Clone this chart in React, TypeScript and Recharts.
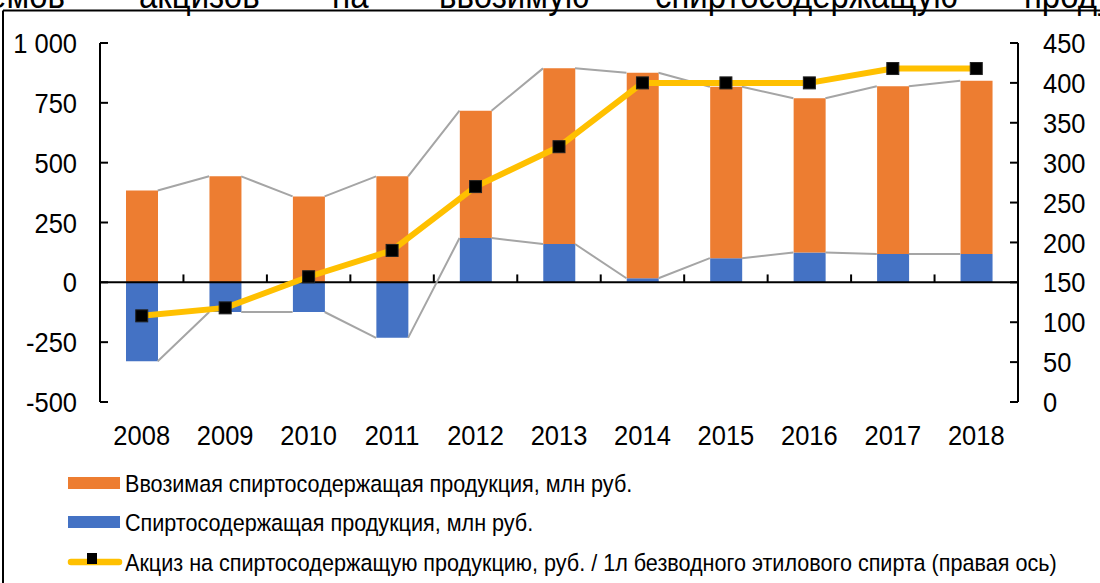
import React from "react";
import { Bar, ComposedChart, Line, ReferenceLine, XAxis, YAxis } from "recharts";

const years = ["2008", "2009", "2010", "2011", "2012", "2013", "2014", "2015", "2016", "2017", "2018"];
// Спиртосодержащая продукция, млн руб.
const domesticExcise = [-330, -124, -124, -232, 185, 160, 17, 101, 125, 118, 118];
// Ввозимая спиртосодержащая продукция, млн руб. (stacked above the blue part)
const importedExcise = [384, 443, 359, 443, 532, 734, 859, 716, 644, 701, 724];
// Акциз, руб. / 1л безводного этилового спирта (right axis)
const exciseRate = [108, 118, 157, 190, 270, 320, 400, 400, 400, 418, 418];

const leftTicks = [-500, -250, 0, 250, 500, 750, 1000];
const rightTicks = [0, 50, 100, 150, 200, 250, 300, 350, 400, 450];
const titleWords = ["объемов", "акцизов", "на", "ввозимую", "спиртосодержащую", "продукцию"];

const FONT = "'Liberation Sans', Arial, sans-serif";
const ORANGE = "#ED7D31";
const BLUE = "#4472C4";
const YELLOW = "#FFC000";
const GREY = "#A5A5A5";

const W = 1100;
const LEFT_W = 100;
const RIGHT_W = 82;
const PLOT_W = W - LEFT_W - RIGHT_W;
const BAR = 32;
const half = BAR / 2 / (PLOT_W / years.length);

const rows = years.map((year, i) => ({
  year,
  domestic: domesticExcise[i],
  imported: importedExcise[i],
  rate: exciseRate[i]
}));

// ends of each stacked series, for the excel-like series lines
const domesticEnds = domesticExcise;
const importedEnds = importedExcise.map((v, i) => v + Math.max(domesticExcise[i], 0));

function seriesLine(ends: number[]) {
  const pts: { pos: number; v: number | null }[] = [];
  for (let i = 0; i < ends.length - 1; i++) {
    pts.push({ pos: i + 0.5 + half, v: ends[i] });
    pts.push({ pos: i + 1.5 - half, v: ends[i + 1] });
    pts.push({ pos: i + 1.5, v: null });
  }
  return pts;
}

const fmt = (v: number) => (Math.abs(v) >= 1000 ? String(v).replace(/(\d)(?=(\d{3})+$)/, "$1 ") : String(v));

const LeftTick = (props: any) => {
  const { x, y, payload } = props;
  return (
    <g>
      <line x1={x} x2={x + 8} y1={y} y2={y} stroke="#000" strokeWidth={2} />
      <text transform={`translate(${x - 23},${y}) scale(1,1.1)`} textAnchor="end" dy="0.358em" fontSize={25.5} fontFamily={FONT} fill="#000">
        {fmt(payload.value)}
      </text>
    </g>
  );
};

const RightTick = (props: any) => {
  const { x, y, payload } = props;
  return (
    <g>
      <line x1={x} x2={x - 8} y1={y} y2={y} stroke="#000" strokeWidth={2} />
      <text transform={`translate(${x + 25},${y}) scale(1,1.1)`} textAnchor="start" dy="0.358em" fontSize={25.5} fontFamily={FONT} fill="#000">
        {payload.value}
      </text>
    </g>
  );
};

const YearTick = (props: any) => {
  const { x, y, payload } = props;
  return (
    <text transform={`translate(${x},${y + 43}) scale(1,1.1)`} textAnchor="middle" fontSize={25.5} fontFamily={FONT} fill="#000">
      {payload.value}
    </text>
  );
};

const SquareDot = (props: any) => {
  const { cx, cy, index } = props;
  if (cx == null || cy == null) return <g key={index} />;
  return <rect key={index} x={cx - 6} y={cy - 6} width={12} height={12} fill="#000" stroke="#222" strokeWidth={1} />;
};

const legendItems = [
  { label: "Ввозимая спиртосодержащая продукция, млн руб.", kind: "bar", color: ORANGE },
  { label: "Спиртосодержащая продукция, млн руб.", kind: "bar", color: BLUE },
  { label: "Акциз на спиртосодержащую продукцию, руб. / 1л безводного этилового спирта (правая ось)", kind: "line", color: YELLOW }
];
const legendCenters = [483, 522, 562];

const titleX = [65, 139, 332, 439, 655, 1024];

export default function App() {
  return (
    <div style={{ position: "absolute", left: 0, top: 0, width: W, height: 583, overflow: "hidden", background: "#fff" }}>
      <ComposedChart
        width={W}
        height={462}
        data={rows}
        stackOffset="sign"
        margin={{ top: 43, right: 0, bottom: 0, left: 0 }}
        style={{ position: "absolute", left: 0, top: 0 }}
      >
        <XAxis
          xAxisId="cat"
          dataKey="year"
          height={60}
          axisLine={false}
          tickLine={false}
          tickSize={0}
          tickMargin={0}
          interval={0}
          tick={<YearTick />}
        />
        <XAxis xAxisId="num" dataKey="pos" type="number" domain={[0, years.length]} allowDataOverflow hide />
        <YAxis
          yAxisId="left"
          width={LEFT_W}
          domain={[-500, 1000]}
          ticks={leftTicks}
          interval={0}
          allowDataOverflow
          axisLine={{ stroke: "#000", strokeWidth: 2 }}
          tickLine={false}
          tickSize={0}
          tickMargin={0}
          tick={<LeftTick />}
        />
        <YAxis
          yAxisId="right"
          orientation="right"
          width={RIGHT_W}
          domain={[0, 450]}
          ticks={rightTicks}
          interval={0}
          allowDataOverflow
          axisLine={{ stroke: "#000", strokeWidth: 2 }}
          tickLine={false}
          tickSize={0}
          tickMargin={0}
          tick={<RightTick />}
        />
        <Bar xAxisId="cat" yAxisId="left" dataKey="domestic" stackId="a" fill={BLUE} barSize={BAR} isAnimationActive={false} />
        <Bar xAxisId="cat" yAxisId="left" dataKey="imported" stackId="a" fill={ORANGE} barSize={BAR} isAnimationActive={false} />
        <ReferenceLine xAxisId="cat" yAxisId="left" y={0} stroke="#000" strokeWidth={2} />
        {years.slice(1).map((_, i) => (
          <ReferenceLine
            key={i}
            xAxisId="num"
            yAxisId="left"
            segment={[{ x: i + 1, y: 0 }, { x: i + 1, y: 33 }]}
            stroke="#000"
            strokeWidth={2}
          />
        ))}
        <Line
          xAxisId="num"
          yAxisId="left"
          data={seriesLine(importedEnds)}
          dataKey="v"
          stroke={GREY}
          strokeWidth={2}
          dot={false}
          activeDot={false}
          connectNulls={false}
          isAnimationActive={false}
        />
        <Line
          xAxisId="num"
          yAxisId="left"
          data={seriesLine(domesticEnds)}
          dataKey="v"
          stroke={GREY}
          strokeWidth={2}
          dot={false}
          activeDot={false}
          connectNulls={false}
          isAnimationActive={false}
        />
        <Line
          xAxisId="cat"
          yAxisId="right"
          dataKey="rate"
          stroke={YELLOW}
          strokeWidth={6}
          strokeLinejoin="round"
          dot={<SquareDot />}
          activeDot={false}
          isAnimationActive={false}
        />
      </ComposedChart>

      <svg width={W} height={583} style={{ position: "absolute", left: 0, top: 0, pointerEvents: "none" }}>
        {titleWords.map((w, i) => (
          <text
            key={w}
            transform={`translate(${titleX[i]},8) scale(1,1.1)`}
            textAnchor={i === 0 ? "end" : "start"}
            fontSize={33}
            fontFamily={FONT}
            fill="#000"
          >
            {w}
          </text>
        ))}
        <line x1={3} x2={W} y1={10.5} y2={10.5} stroke="#000" strokeWidth={2} />
        <line x1={3} x2={3} y1={10.5} y2={583} stroke="#000" strokeWidth={2} />

        {legendItems.map((item, i) => {
          const c = legendCenters[i];
          return (
            <g key={item.label}>
              {item.kind === "bar" ? (
                <rect x={68} y={c - 6} width={52} height={12} fill={item.color} />
              ) : (
                <g>
                  <line x1={71} x2={119} y1={c} y2={c} stroke={item.color} strokeWidth={6.5} strokeLinecap="round" />
                  <rect x={87} y={c - 9} width={10} height={11} fill="#000" />
                </g>
              )}
              <text
                transform={`translate(125,${c}) scale(1,1.1)`}
                dy="0.36em"
                fontSize={21.6}
                fontFamily={FONT}
                fill="#000"
              >
                {item.label}
              </text>
            </g>
          );
        })}
      </svg>
    </div>
  );
}
